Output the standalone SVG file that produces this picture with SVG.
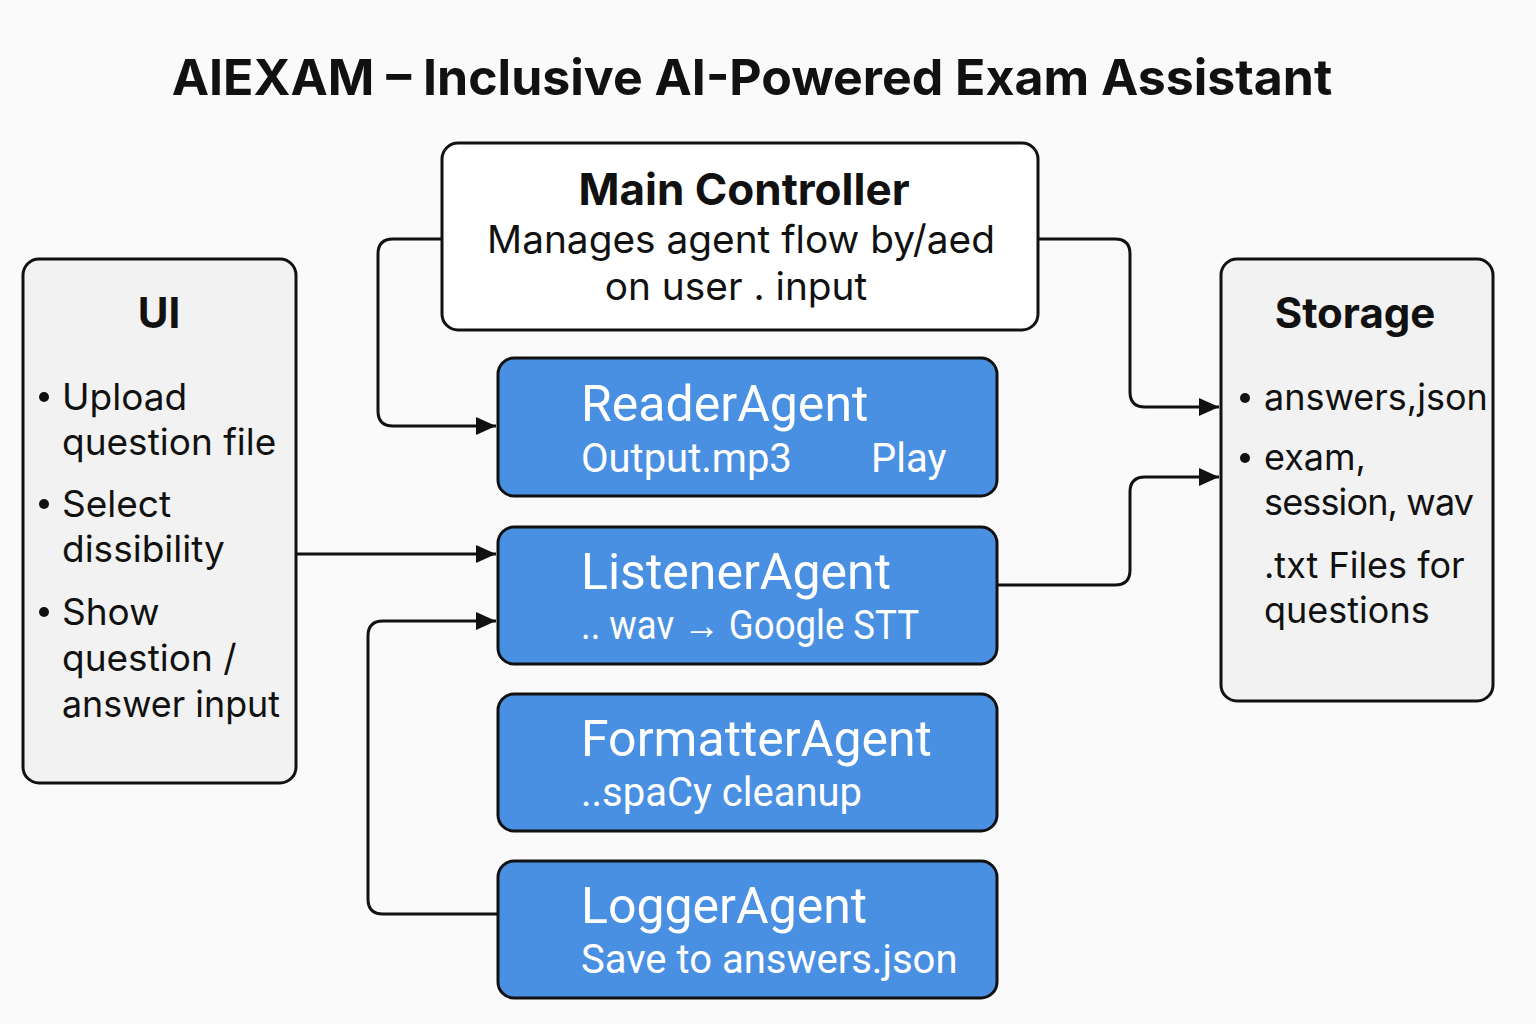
<svg xmlns="http://www.w3.org/2000/svg" width="1536" height="1024" viewBox="0 0 1536 1024">
<defs>
<marker id="arr" viewBox="0 0 20 18" refX="20" refY="9" markerWidth="20" markerHeight="18" markerUnits="userSpaceOnUse" orient="auto">
<path d="M0,0 L20,9 L0,18 Z" fill="#111"/>
</marker>
<style>
.box{stroke:#111;stroke-width:3}
.gray{fill:#f2f2f2}
.white{fill:#ffffff}
.blue{fill:#4a90e2}
.t{font-family:Inter,"Noto Sans","DejaVu Sans",sans-serif;fill:#111}
.b{font-weight:700}
.w{font-family:Roboto,"Noto Sans",sans-serif;fill:#ffffff}
.c{fill:none;stroke:#111;stroke-width:3}
</style>
</defs>
<rect width="1536" height="1024" fill="#fafafa"/>
<text class="t b" x="752" y="95" font-size="50" text-anchor="middle">AIEXAM – Inclusive AI-Powered Exam Assistant</text>

<g id="connectors">
<path class="c" d="M442,239 H393 Q378,239 378,254 V411 Q378,426 393,426 H496" marker-end="url(#arr)"/>
<path class="c" d="M1038,239 H1115 Q1130,239 1130,254 V392 Q1130,407 1145,407 H1219" marker-end="url(#arr)"/>
<path class="c" d="M296,554 H496" marker-end="url(#arr)"/>
<path class="c" d="M498,914 H383 Q368,914 368,899 V636 Q368,621 383,621 H496" marker-end="url(#arr)"/>
<path class="c" d="M998,585 H1115 Q1130,585 1130,570 V492 Q1130,477 1145,477 H1219" marker-end="url(#arr)"/>
</g>

<g id="main-controller">
<rect class="box white" x="442" y="143" width="596" height="187" rx="16"/>
<text class="t b" x="744" y="205" font-size="44" text-anchor="middle">Main Controller</text>
<text class="t" x="741" y="253" font-size="38.8" text-anchor="middle">Manages agent flow by/aed</text>
<text class="t" x="736" y="300" font-size="38.8" text-anchor="middle">on user . input</text>
</g>

<g id="ui">
<rect class="box gray" x="23" y="259" width="273" height="524" rx="16"/>
<text class="t b" x="159" y="328" font-size="42" text-anchor="middle">UI</text>
<g class="t" font-size="37">
<circle cx="44" cy="397" r="5" fill="#111"/>
<text x="62" y="410">Upload</text>
<text x="62" y="455">question file</text>
<circle cx="44" cy="504" r="5" fill="#111"/>
<text x="62" y="517">Select</text>
<text x="62" y="562">dissibility</text>
<circle cx="44" cy="612" r="5" fill="#111"/>
<text x="62" y="625">Show</text>
<text x="62" y="671">question /</text>
<text x="62" y="717" textLength="218" lengthAdjust="spacingAndGlyphs">answer input</text>
</g>
</g>

<g id="storage">
<rect class="box gray" x="1221" y="259" width="272" height="442" rx="16"/>
<text class="t b" x="1355" y="328" font-size="42" text-anchor="middle">Storage</text>
<g class="t" font-size="36">
<circle cx="1245" cy="398" r="5" fill="#111"/>
<text x="1264" y="410">answers,json</text>
<circle cx="1245" cy="458" r="5" fill="#111"/>
<text x="1264" y="470">exam,</text>
<text x="1264" y="515" textLength="210">session, wav</text>
<text x="1264" y="578">.txt Files for</text>
<text x="1264" y="623">questions</text>
</g>
</g>

<g id="reader-agent">
<rect class="box blue" x="498" y="358" width="499" height="138" rx="16"/>
<text class="w" x="581" y="421" font-size="50">ReaderAgent</text>
<text class="w" x="581" y="472" font-size="40">Output.mp3</text>
<text class="w" x="871" y="472" font-size="40">Play</text>
</g>

<g id="listener-agent">
<rect class="box blue" x="498" y="527" width="499" height="137" rx="16"/>
<text class="w" x="581" y="589" font-size="50">ListenerAgent</text>
<text class="w" x="581" y="639" font-size="40" textLength="338" lengthAdjust="spacingAndGlyphs">.. wav → Google STT</text>
</g>

<g id="formatter-agent">
<rect class="box blue" x="498" y="694" width="499" height="137" rx="16"/>
<text class="w" x="581" y="756" font-size="50">FormatterAgent</text>
<text class="w" x="581" y="806" font-size="40">..spaCy cleanup</text>
</g>

<g id="logger-agent">
<rect class="box blue" x="498" y="861" width="499" height="137" rx="16"/>
<text class="w" x="581" y="923" font-size="50">LoggerAgent</text>
<text class="w" x="581" y="973" font-size="40">Save to answers.json</text>
</g>
</svg>
